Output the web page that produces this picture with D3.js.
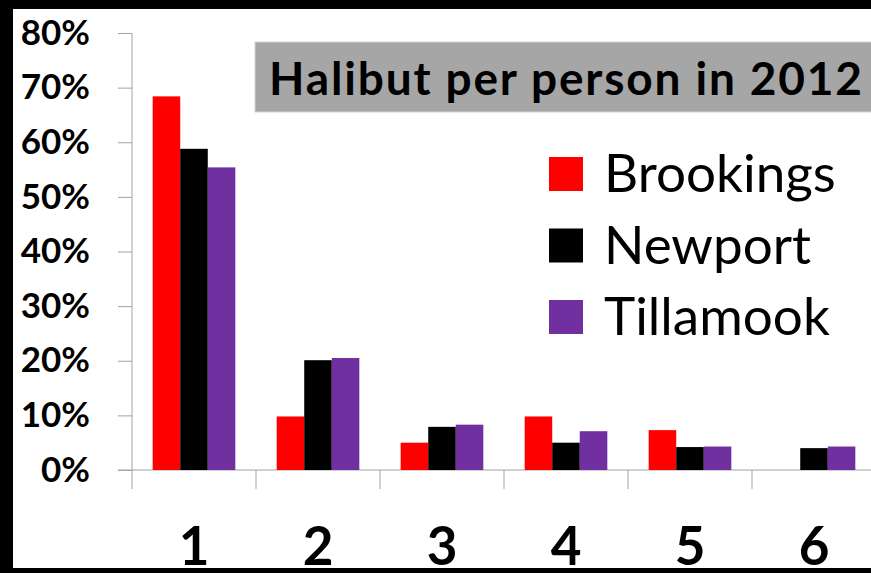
<!DOCTYPE html>
<html>
<head>
<meta charset="utf-8">
<script src="https://cdn.jsdelivr.net/npm/d3@7"></script>
<style>
  html, body { margin: 0; padding: 0; background: #000; }
  svg { display: block; font-family: Lato, "Open Sans", sans-serif; }
</style>
</head>
<body>
<svg id="chart" width="871" height="573"></svg>
<script>
// Data
const categories = ["1", "2", "3", "4", "5", "6"];
const seriesNames = ["Brookings", "Newport", "Tillamook"];
const brookings = [0.684, 0.098, 0.050, 0.098, 0.073, 0.0];
const newport = [0.588, 0.201, 0.079, 0.050, 0.042, 0.040];
const tillamook = [0.554, 0.205, 0.083, 0.071, 0.043, 0.043];
const yTicks = [0, 0.1, 0.2, 0.3, 0.4, 0.5, 0.6, 0.7, 0.8];
const titleText = "Halibut per person in 2012";

const colours = ["#ff0000", "#000000", "#7030a0"];
const seriesValues = [brookings, newport, tillamook];
const axisGrey = "#a3a3a3";

const svg = d3.select("#chart");

// white canvas inside the black frame
svg.append("rect")
    .attr("x", 13)
    .attr("y", 9)
    .attr("width", 858)
    .attr("height", 559)
    .attr("fill", "#fff");

const plotLeft = 132;
const plotRight = 876;
const plotTop = 33;
const plotBottom = 470;

// Scales
const xScale = d3.scaleBand()
    .domain(categories)
    .range([plotLeft, plotRight])
    .padding(0);

// Excel style gap width of 150%
const gap = xScale.bandwidth() * 1.5 / 4.5;
const xInner = d3.scaleBand()
    .domain(seriesNames)
    .range([gap / 2, xScale.bandwidth() - gap / 2])
    .padding(0);

const yScale = d3.scaleLinear()
    .domain([0, 0.8])
    .range([plotBottom, plotTop]);

// Y axis
const yAxis = d3.axisLeft(yScale)
    .tickValues(yTicks)
    .tickSize(14)
    .tickPadding(28)
    .tickFormat(d3.format(".0%"));

const yG = svg.append("g")
    .attr("class", "y-axis")
    .attr("transform", `translate(${plotLeft}, 0)`)
    .call(yAxis);

yG.select(".domain")
    .attr("d", `M0,${plotTop}V${plotBottom}`)
    .attr("stroke", axisGrey);
yG.selectAll(".tick line").attr("stroke", axisGrey);
yG.selectAll(".tick text")
    .attr("fill", "#000")
    .style("font-family", "Lato, sans-serif")
    .style("font-weight", "bold")
    .style("font-size", "35px");

// X axis line and category tick marks
svg.append("line")
    .attr("x1", plotLeft - 14)
    .attr("x2", plotRight)
    .attr("y1", plotBottom)
    .attr("y2", plotBottom)
    .attr("stroke", axisGrey);

svg.selectAll(".xTick")
    .data(categories)
    .join("line")
    .attr("class", "xTick")
    .attr("x1", d => xScale(d))
    .attr("x2", d => xScale(d))
    .attr("y1", plotBottom)
    .attr("y2", plotBottom + 19)
    .attr("stroke", axisGrey);

// category labels sit right on the bottom frame, like the original
svg.selectAll(".xLabel")
    .data(categories)
    .join("text")
    .attr("class", "xLabel")
    .attr("x", d => xScale(d) + xScale.bandwidth() / 2)
    .attr("y", 565)
    .attr("text-anchor", "middle")
    .style("font-weight", "bold")
    .style("font-size", "53px")
    .text(d => d);

// Bars
seriesNames.forEach((name, i) => {
    svg.selectAll(`.bar${i}`)
        .data(seriesValues[i])
        .join("rect")
        .attr("class", `bar${i}`)
        .attr("x", (d, j) => xScale(categories[j]) + xInner(name))
        .attr("y", d => yScale(d))
        .attr("width", xInner.bandwidth())
        .attr("height", d => plotBottom - yScale(d))
        .attr("fill", colours[i]);
});

// Title box
svg.append("rect")
    .attr("x", 255)
    .attr("y", 42)
    .attr("width", 640)
    .attr("height", 70)
    .attr("fill", "#a6a6a6")
    .attr("stroke", "#d4d4d4")
    .attr("stroke-width", 1);

svg.append("text")
    .attr("x", 269)
    .attr("y", 95)
    .attr("textLength", 593)
    .attr("lengthAdjust", "spacing")
    .style("font-weight", "bold")
    .style("font-size", "46px")
    .text(titleText);

// Legend
const legend = svg.selectAll(".legendItem")
    .data(seriesNames)
    .join("g")
    .attr("class", "legendItem")
    .attr("transform", (d, i) => `translate(549, ${157 + i * 71.5})`);

legend.append("rect")
    .attr("width", 34)
    .attr("height", 34)
    .attr("fill", (d, i) => colours[i]);

legend.append("text")
    .attr("x", 55)
    .attr("y", 35)
    .style("font-size", "53px")
    .text(d => d);
</script>
</body>
</html>
